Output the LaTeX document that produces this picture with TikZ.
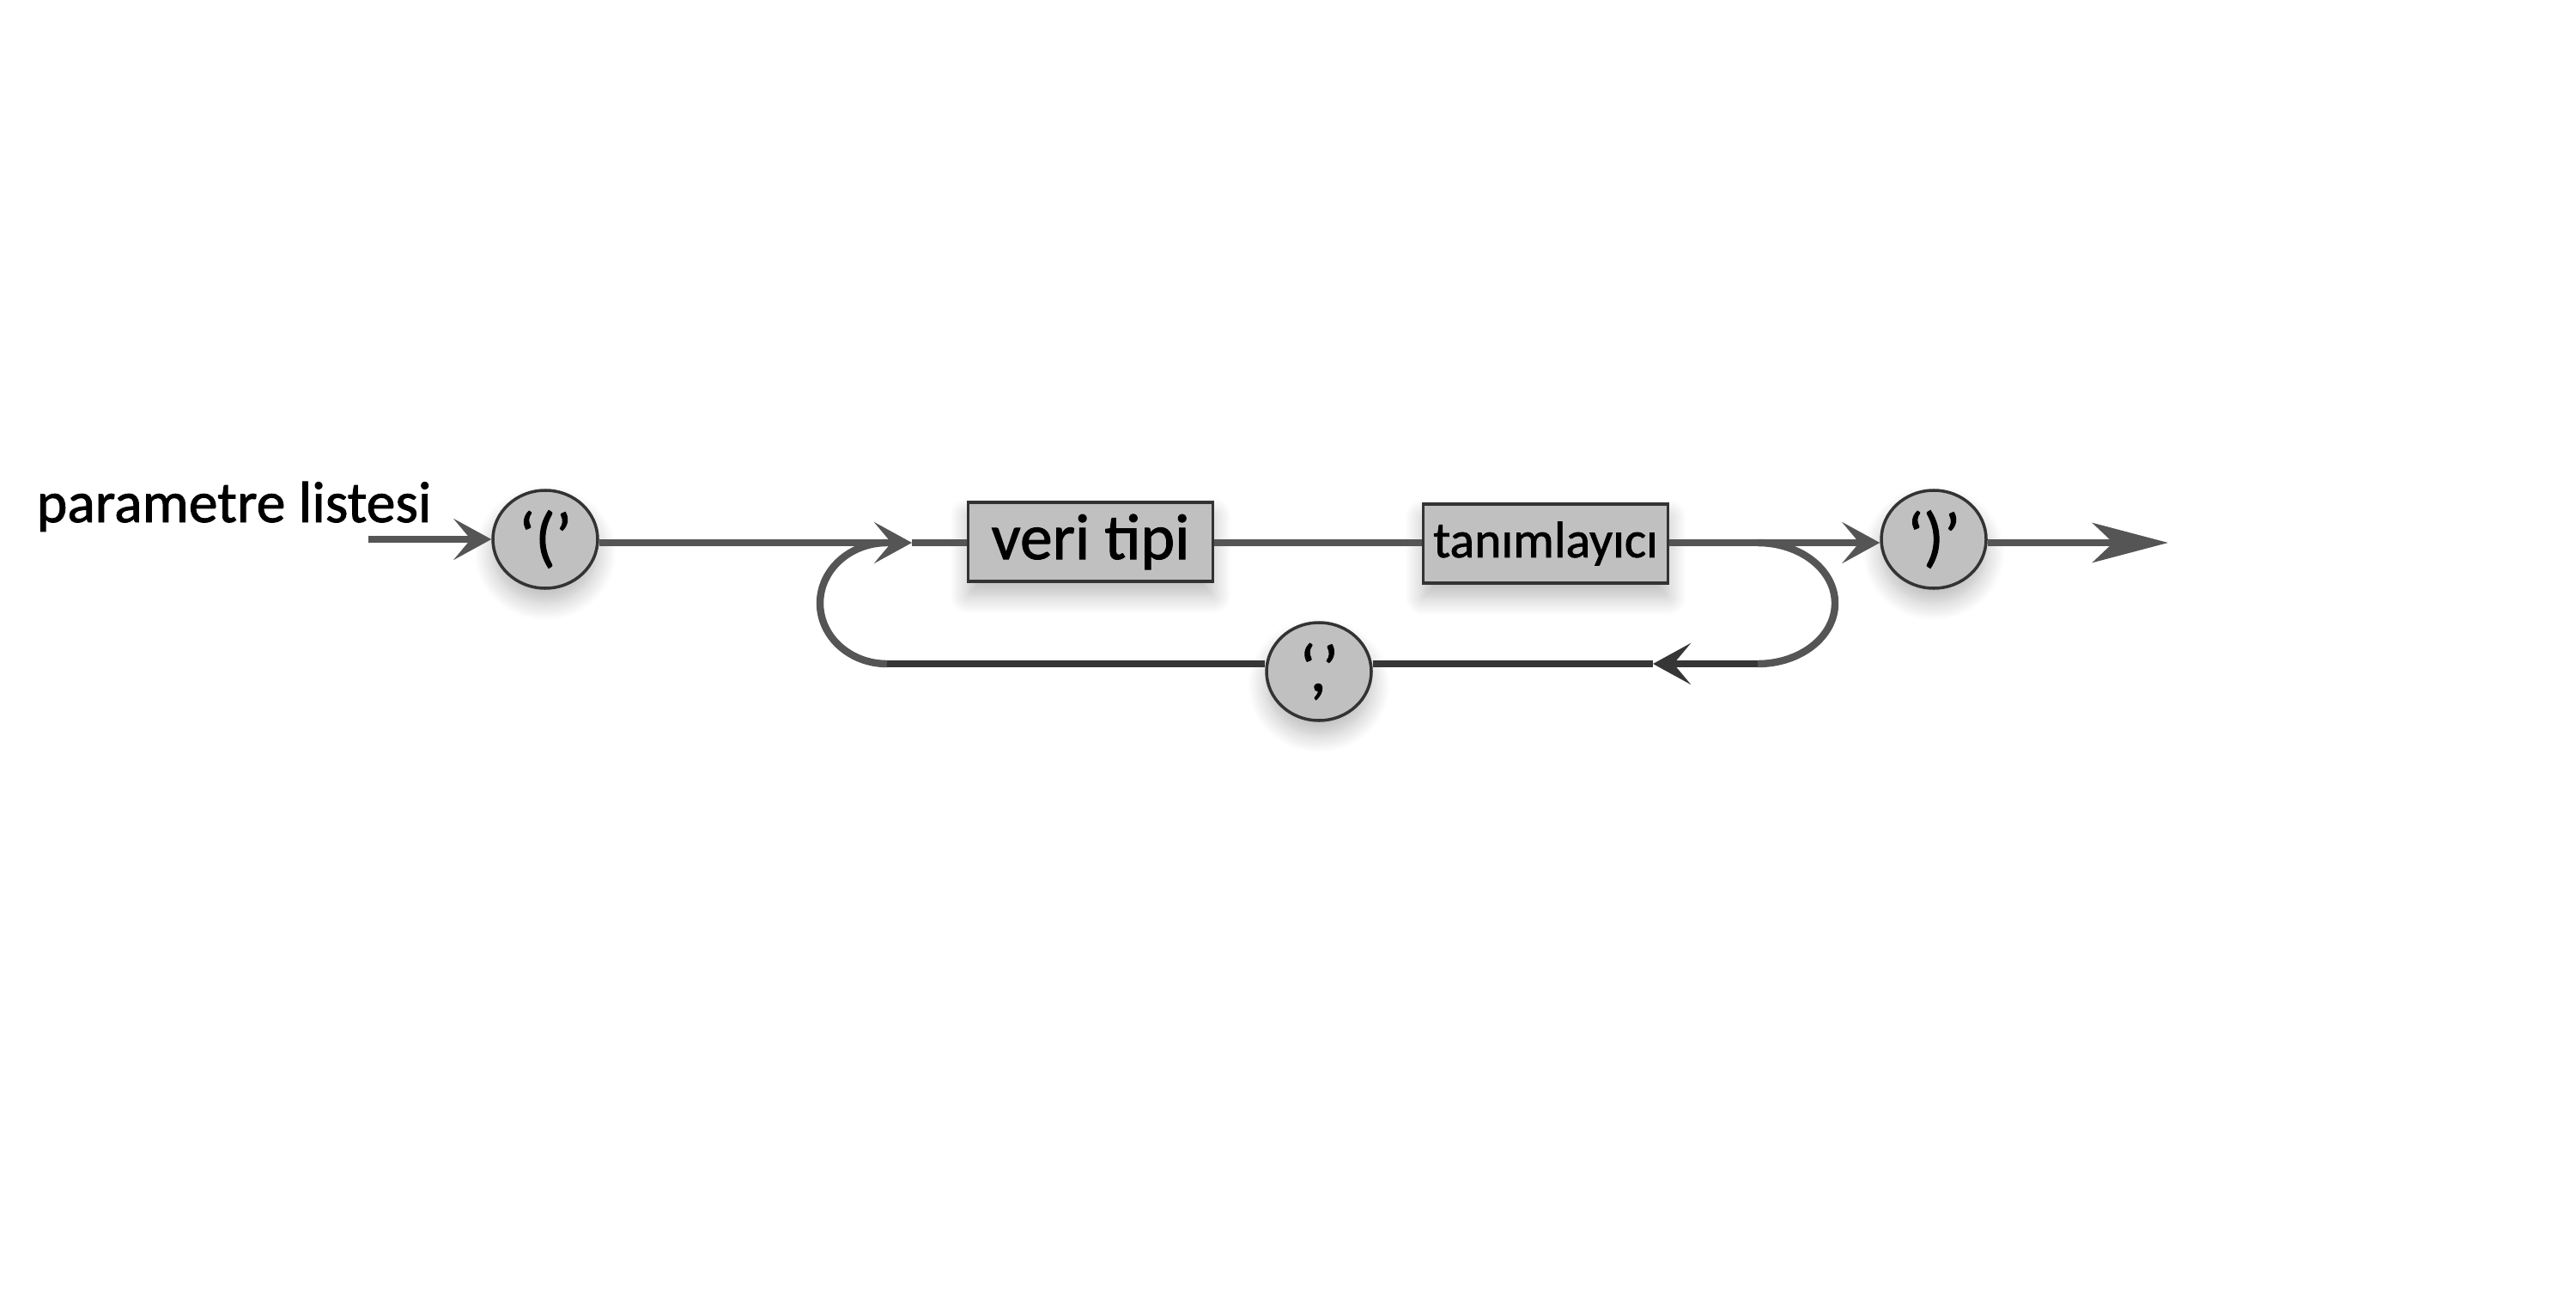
\documentclass[tikz,border=0pt]{standalone}
\usepackage{fontspec}
\setmainfont{Carlito}[FakeBold=1.3]
\usetikzlibrary{arrows.meta,shapes.geometric,shadows.blur}
\definecolor{linegray}{HTML}{555555}
\definecolor{linedark}{HTML}{363636}
\definecolor{nodefill}{HTML}{C0C0C0}
\definecolor{nodeedge}{HTML}{333333}
\tikzset{
  softshadow/.style={blur shadow={shadow xshift=0pt, shadow yshift=-0.16cm,
      shadow blur radius=0.22cm, shadow blur steps=12, shadow opacity=28}},
  termnode/.style={ellipse, draw=nodeedge, line width=1pt, fill=nodefill,
      minimum width=1.22cm, minimum height=1.14cm, inner sep=0pt,
      font=\fontsize{22}{26}\selectfont, softshadow},
  boxnode/.style={rectangle, draw=nodeedge, line width=0.9pt, fill=nodefill,
      minimum width=2.85cm, minimum height=0.92cm, inner sep=0pt, softshadow},
  flow/.style={draw=linegray, line width=2.4pt},
  flowdark/.style={draw=linedark, line width=2.4pt},
  tipsmall/.tip={Stealth[length=0.44cm, width=0.48cm, inset=0.2cm]},
  tipbig/.tip={Stealth[length=0.88cm, width=0.46cm, inset=0.24cm]}
}
\begin{document}
\begin{tikzpicture}
\useasboundingbox (0,0) rectangle (30,15);

% rule name
\node[anchor=base west, inner sep=0pt, font=\fontsize{19.3}{23}\selectfont]
  (title) at (0.42,8.92) {parametre listesi};

% terminals and non-terminals
\node[termnode] (lp) at (6.35,8.72) {‘(’};
\node[boxnode, font=\fontsize{21.5}{25}\selectfont] (vt) at (12.70,8.69) {veri tipi};
\node[boxnode, font=\fontsize{17}{20}\selectfont] (tn) at (18.00,8.67) {tanımlayıcı};
\node[termnode] (rp) at (22.52,8.72) {‘)’};
\node[termnode] (cm) at (15.36,7.18) {‘,’};

% junction points of the repetition loop
\coordinate (in)  at (4.29,8.72);
\coordinate (jl)  at (10.62,8.68);
\coordinate (jr)  at (20.47,8.68);
\coordinate (bl)  at (10.33,7.27);
\coordinate (br)  at (20.47,7.27);
\coordinate (ba)  at (19.25,7.27);
\coordinate (out) at (25.25,8.68);

% main track
\draw[flow, -{tipsmall}] (in) -- (lp.west);
\draw[flow, -{tipsmall}] (lp.east |- jl) -- (jl);
\draw[flow] (jl) -- (vt.west |- jl);
\draw[flow] (vt.east |- jl) -- (tn.west |- jl);
\draw[flow, -{tipsmall}] (tn.east |- jl) -- (rp.west |- jl);
\draw[flow, -{tipbig}] (rp.east |- jl) -- (out);

% loop back through the separator
\draw[flow] (jr) arc[start angle=90, end angle=-90, x radius=0.9cm, y radius=0.705cm];
\draw[flowdark, -{tipsmall}] (br) -- (ba);
\draw[flowdark] (ba) -- (cm.east |- ba);
\draw[flowdark] (cm.west |- bl) -- (bl);
\draw[flow] (bl) arc[start angle=270, end angle=90, x radius=0.78cm, y radius=0.705cm];
\end{tikzpicture}
\end{document}
